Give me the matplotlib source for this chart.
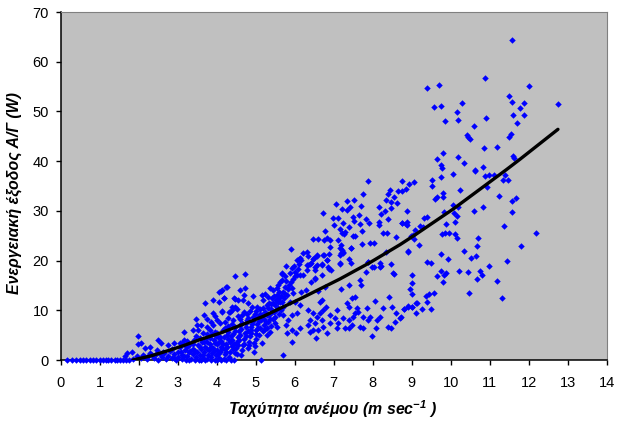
import matplotlib
matplotlib.use("Agg")
import matplotlib.pyplot as plt

plt.rcParams['font.family'] = ['Liberation Sans', 'DejaVu Sans']
plt.rcParams['mathtext.default'] = 'regular'

# (wind speed m/s, output W)
zero_row = [(0.15,0),(0.3,0),(0.38,0),(0.5,0),(0.58,0),(0.65,0),(0.75,0),(0.82,0),(0.9,0),(1.0,0),(1.08,0),(1.15,0),(1.22,0),(1.3,0),(1.38,0),(1.45,0),(1.52,0),(1.6,0.1),(1.68,0.1),(1.75,0.1)]

high_wind = [(11.57,64.3),(10.87,56.7),(9.40,54.66),(9.71,55.4),(12.02,55.1),(11.49,53.05),(11.56,51.8),(11.89,51.6),(12.75,51.4),(11.77,50.7),(9.56,50.8),(9.75,51.0),(10.28,51.6),(10.16,49.8),(9.85,48.0),(10.18,48.2),(10.90,48.6),(11.61,49.2),(11.87,49.2),(11.71,47.75),(10.59,47.0),(10.41,45.3),(10.45,44.9),(10.49,44.5),(11.54,45.5),(11.50,44.9),(10.86,42.7),(11.20,42.9),(9.79,41.7),(9.65,40.4),(10.20,40.8),(10.34,39.6),(11.59,41.1),(11.63,40.7),(9.76,39.2),(9.77,38.6),(10.62,38.2),(10.83,38.8),
(10.63,38.0),(10.05,37.5),(9.76,36.8),(8.76,36.1),(8.94,35.5),(9.06,35.9),(9.52,36.3),(9.51,35.0),(8.76,34.0),(8.85,34.3),(10.24,34.2),(10.87,36.95),(10.99,37.2),(11.11,37.3),(11.35,36.2),(11.46,36.2),(11.38,37.2),(10.94,34.7),(9.79,33.5),(9.81,32.7),(9.64,32.7),(9.59,32.3),(11.23,33.0),(11.67,32.5),(11.57,31.9),(10.06,31.2),(10.20,30.8),(10.82,30.85),(9.82,29.7),(10.61,29.9),(11.57,29.8),(8.87,30.0),(10.08,29.5),(10.16,29.0),(9.40,28.7),(9.31,28.5),(8.76,27.6),(8.87,27.8),(8.87,27.2),(9.89,27.4),(10.11,27.8),(9.21,27.0),(9.30,26.8),(9.08,26.2),(11.37,27.0),(12.20,25.6),(9.78,25.3),(9.86,25.5),(9.96,25.5),(10.11,25.4),(10.15,24.5),(10.69,24.5),(8.99,24.9),(9.07,24.4),(9.18,23.2),(10.68,22.9),(11.79,22.9),(8.91,21.9),(10.34,22.0),(9.76,21.3),(9.92,20.4),(10.53,20.5),(10.66,21.0),(11.44,20.0),(9.40,19.65),(9.49,19.45),(10.99,18.85),(9.75,18.0),(10.21,18.0),(10.44,17.8),(10.76,18.0),(9.02,17.1),(9.64,16.8),(9.87,17.4),(9.83,17.0),(10.79,17.1),(10.67,16.3),(9.81,15.7),(11.19,15.8),(9.0,15.4),(8.96,14.2),(9.02,13.3),(10.47,13.5),(9.57,13.5),(9.45,13.2),(9.36,12.9),(11.31,12.5),(9.38,11.7),(9.12,11.5),(9.02,10.7),(8.90,10.8),(8.79,10.3),(9.27,10.3),(9.50,10.3),(9.11,9.5),(8.73,8.6)]

upper_band = [(5.91,22.4),(4.48,16.8),(4.73,17.2),(4.25,14.7),(4.11,13.95),(4.19,12.5),(4.60,14.1),(4.72,14.4),(4.47,12.2),(4.55,12.1),(4.69,13.1),(4.94,12.9),(4.38,10.6),(4.32,9.7),(4.51,10.2),(4.13,9.9),(4.81,11.5),(4.90,10.6),(5.03,10.7),(5.15,13.1),(5.24,13.3),(5.37,14.4),(5.45,14.1),(5.32,12.7),(5.18,12.1),(5.41,12.4),(5.54,14.4),(5.58,15.1),(5.67,16.1),(5.62,15.6),(5.67,17.4),(5.77,18.9),(5.92,18.6),(6.01,17.8),(6.09,18.4),(6.14,17.1),(6.01,16.8),(6.07,20.1),(6.14,20.5),(6.22,21.5),(6.32,21.8),(6.35,21.0),(6.41,19.45),(6.32,19.1),(6.52,18.1),(6.56,19.1),(6.50,20.5),(6.58,21.1),(6.73,21.1),(6.89,21.3),(6.84,20.1),(6.69,19.1),(6.86,18.8),(6.92,18.1),(6.52,16.2),(6.41,15.6),(5.92,14.4),(5.95,13.5),(6.15,13.7),(6.29,14.1),(6.61,13.9),(6.78,14.75),
(8.91,21.8),(9.04,25.1),(8.59,24.7),(8.27,25.6),(8.36,25.5),(8.74,27.5),(8.85,27.4),(7.72,23.3),(7.93,23.6),(8.04,23.5),(7.72,26.0),(7.50,25.0),(7.55,25.0),(7.44,22.5),(7.16,22.5),(7.20,21.5),(7.25,21.8),(7.16,21.1),(7.16,19.5),(7.44,19.5),(7.89,19.8),(8.33,21.8),(8.19,19.5),(8.20,18.8),(8.46,19.25),(7.97,18.8),(8.03,18.8),(7.82,17.8),(8.53,17.4),
(7.89,36.1),(7.76,33.4),(8.44,34.2),(8.38,33.3),(8.66,33.9),(8.34,32.2),(8.54,32.7),(8.47,31.7),(8.63,31.5),(7.05,31.45),(7.34,32.0),(7.52,32.2),(7.70,31.0),(7.21,30.3),(7.42,30.7),(7.35,30.2),(8.16,30.7),(8.32,30.0),(8.46,30.5),(6.72,29.5),(8.21,29.3),(7.64,29.2),(6.98,28.6),(7.10,28.5),(7.49,28.7),(7.52,28.0),(7.82,28.4),(7.91,27.6),(8.40,28.3),(7.68,27.3),(8.15,27.8),(8.17,27.1),(7.02,27.2),(7.25,27.6),(7.16,26.4),(7.21,25.5),(7.29,25.8),(7.38,26.8),(7.27,25.4),(6.77,26.0),(6.46,24.4),(6.61,24.4),(6.74,24.1),(6.82,24.5),(6.91,24.1),(6.91,22.8),(7.12,24.1),(7.18,23.1),(7.45,22.5),(7.21,22.1),(7.25,21.5),(7.40,20.3),(6.82,20.05),(6.57,21.0),(6.74,21.1),(6.48,20.3),(6.10,20.3),(6.16,20.1),(6.12,19.4),(6.35,19.2),(6.40,19.3),(6.52,18.8),(6.69,19.3),(6.89,18.4),(5.97,18.9),(6.69,17.1),(7.16,19.3),(7.87,19.65),(8.22,19.0),(8.54,17.3),(5.67,17.3),(5.75,16.8),(5.88,17.4),(6.05,17.1),(6.22,17.1),(6.31,18.1),(6.52,16.4)]

lower_band = [(5.71,1.0),(5.14,0),(5.92,3.7),(6.54,4.4),(6.82,5.4),(7.97,4.8),(6.03,5.4),(5.92,6.0),(6.14,6.4),(5.79,5.4),(5.77,7.0),(5.84,8.0),(5.71,9.1),(5.92,9.1),(6.05,9.4),(6.14,11.1),(6.01,11.7),(5.88,11.7),(5.71,10.6),(5.58,10.4),(5.54,6.7),(5.37,5.7),(5.28,5.0),(5.50,8.7),(6.38,5.7),(6.46,6.0),(6.35,7.0),(6.39,8.05),(6.56,8.7),(6.35,10.1),(6.48,9.4),(6.65,9.4),(6.73,10.1),(6.65,11.7),(6.69,12.1),(6.80,10.6),(6.91,9.05),(7.03,8.4),(6.91,7.4),(6.73,6.7),(6.61,6.0),(6.52,7.4),(6.69,8.05),(7.08,10.1),(7.12,7.4),(7.08,6.4),(7.29,6.4),(7.38,6.4),(7.25,8.4),(7.38,8.05),(7.46,7.0),(7.50,8.7),(7.55,9.4),(7.33,11.4),(7.38,10.7),(7.46,12.4),(7.55,12.6),(7.59,10.4),(7.67,6.7),(7.76,6.4),(7.63,9.7),(7.76,8.7),(7.85,10.4),(7.89,8.05),(7.93,8.7),(8.06,11.9),(8.08,6.4),(8.10,8.05),(8.19,8.7),(8.27,10.4),(8.40,6.7),(8.46,6.5),(8.42,12.7),(8.49,10.7),(8.57,7.7),(8.59,9.4),(8.70,8.4),(8.79,10.2),(8.90,10.7),(9.02,10.7),(9.13,11.5),(7.18,14.2),(7.40,15.1),(7.67,16.0),(7.69,15.1)]

low_wind = [(4.26,14.6),(4.13,14.1),(4.07,13.7),(4.19,12.4),(4.07,11.7),(3.91,12.1),(3.71,11.4),(4.44,12.4),(4.67,12.1),(3.68,9.05),(3.47,8.25),(3.17,5.7),(3.38,6.0),(3.49,7.0),(3.90,9.4),(3.74,8.2),(4.13,9.7),(3.95,8.85),(4.38,10.1),(4.34,9.6),(4.47,10.7),(4.30,8.4),(4.43,8.05),(4.64,9.05),(1.99,4.9),(1.97,3.15),(2.05,3.35),(2.50,4.0),(2.56,3.35),(2.16,2.5),(2.29,2.7),(2.46,2.1),(1.82,1.7),(1.71,1.35),(1.65,0.8),(2.76,3.0),(2.91,3.35),(2.85,2.3),(2.63,1.7),(3.15,4.0),(3.10,3.35),(3.23,2.7),(3.6,7.0),(3.53,6.0),(3.74,6.7),(3.83,6.0),(3.66,5.4),(3.91,7.0),(4.09,7.4),(4.21,6.4),(3.95,5.7),(4.04,4.7),(4.26,5.0),(4.47,6.7),(4.6,7.0),(4.77,8.0)]

dense_core = [(1.85,0.3),(1.95,0.8),(2.05,0.4),(2.1,1.1),(2.2,0.2),(2.25,0.9),(2.3,1.5),(2.4,0.5),(2.45,1.2),(2.5,0.1),(2.6,0.6),(2.65,1.4),(2.7,0.2),(2.75,0.9),(2.8,1.9),(2.85,0.4),(2.9,1.2),(2.95,0.1),(3.0,0.7),(3.02,1.7),(3.05,2.6),(3.1,0.3),(3.12,1.1),(3.18,2.1),(3.2,0.1),(3.25,0.8),(3.28,1.6),(3.3,3.1),(3.35,0.3),(3.38,1.2),(3.4,2.3),(3.42,4.0),(3.48,0.7),(3.5,1.7),(3.52,3.0),(3.55,0.1),(3.58,1.1),(3.6,2.2),(3.62,3.6),(3.65,0.5),(3.68,1.6),(3.7,2.7),(3.72,4.5),(3.75,0.2),(3.78,1.0),(3.8,2.0),(3.82,3.2),(3.85,0.6),(3.88,1.5),(3.9,2.5),(3.92,4.0),(3.95,0.1),(3.98,1.1),(4.0,2.0),(4.0,3.2),(4.02,5.4),(4.05,0.5),(4.08,1.6),(4.1,2.7),(4.12,3.9),(4.15,6.0),(4.18,0.2),(4.2,1.2),(4.22,2.2),(4.25,3.3),(4.28,4.3),(4.3,6.9),(4.32,0.6),(4.35,1.7),(4.38,2.9),(4.4,4.0),(4.42,5.3),(4.45,0.1),(4.48,1.4),(4.5,2.4),(4.52,3.6),(4.55,4.7),(4.58,5.8),(4.6,8.2),(4.62,1.0),(4.65,2.0),(4.68,3.1),(4.7,4.2),(4.72,5.4),(4.75,6.6),(4.78,9.2),(4.8,2.5),(4.82,3.6),(4.85,4.8),(4.88,6.0),(4.9,7.2),(4.92,8.6),(4.95,1.6),(4.98,2.9),(5.0,4.2),(5.02,5.3),(5.05,6.5),(5.08,7.8),(5.1,9.2),(5.12,10.3),(5.15,3.4),(5.18,5.8),(5.2,7.0),(5.22,8.3),(5.25,9.6),(5.28,11.0),(5.3,6.4),(5.32,7.6),(5.35,9.0),(5.38,10.2),(5.4,11.3),(5.45,8.2),(5.48,9.6),(5.5,11.0),(5.52,12.0),(5.55,13.0),(5.6,9.2),(5.62,11.6),(5.65,12.8),(5.7,13.6),(5.75,14.6),(5.8,13.0),(5.85,15.0),(3.85,7.6),(4.0,8.0),(4.2,7.6),(4.4,7.3),(4.55,8.9),(4.7,9.6),(4.85,9.9),(5.0,9.9)]

dense_fill = [(3.3,0.0),(3.45,0.0),(3.6,0.0),(3.7,0.0),(3.85,0.0),(4.0,0.0),(4.1,0.0),(4.25,0.0),(4.37,0.0),(3.44,1.9),(3.56,2.7),(3.66,1.1),(3.74,3.6),(3.76,2.3),(3.84,4.4),(3.86,2.7),(3.94,1.9),(3.96,3.4),(3.97,4.9),(4.03,1.2),(4.06,3.7),(4.08,4.6),(4.14,2.2),(4.16,3.2),(4.18,4.7),(4.24,1.6),(4.27,2.7),(4.29,5.7),(4.33,3.6),(4.36,4.8),(4.41,2.2),(4.44,3.2),(4.46,5.9),(4.53,1.2),(4.54,3.0),(4.56,4.0),(4.6,5.0),(4.63,6.2),(4.66,7.5),(4.71,3.3),(4.74,4.8),(4.76,7.4),(4.79,5.9),(4.81,8.4),(4.84,3.0),(4.87,5.4),(4.89,6.6),(4.93,7.9),(4.96,3.5),(4.99,9.2),(5.01,6.0),(5.04,7.2),(5.06,8.6),(5.09,5.0),(5.11,6.4),(5.13,8.0),(5.16,9.0),(5.19,10.4),(5.23,6.3),(5.26,7.6),(5.29,9.0),(5.31,10.4),(5.34,11.5),(5.36,8.3),(5.39,6.9),(5.42,9.7),(5.44,11.4),(5.46,12.8),(5.49,7.5),(5.53,10.0),(5.56,11.6),(5.59,12.5),(5.61,13.6),(5.64,10.0),(5.68,11.6),(5.72,12.4),(5.76,13.2),(5.78,15.8),(5.83,14.2),(5.9,15.6),(5.96,16.2),(3.2,2.9),(3.05,3.4),(3.32,1.9),(3.4,3.2),(3.25,3.9),(3.46,4.8),(3.58,4.5),(3.68,3.6),(3.76,5.2),(3.88,5.2),(2.9,0.5),(3.08,1.7),(3.15,0.8),(2.55,1.2),(2.35,1.0),(2.15,0.6)]

trend_speed = [1.85,2.3,2.72,3.15,3.57,4.085,4.85,5.2,6.14,7.16,7.93,8.7,9.13,10.07,11.43,11.78,12.75]
trend_power = [0.0,0.8,1.8,2.9,4.1,5.4,7.7,8.8,12.3,16.3,19.6,23.2,25.4,30.4,38.3,40.4,46.4]

x_ticks = list(range(0, 15))
y_ticks = list(range(0, 71, 10))

points = zero_row + high_wind + upper_band + lower_band + low_wind + dense_core + dense_fill
speed = [p[0] for p in points]
power = [p[1] for p in points]

fig = plt.figure(figsize=(6.22, 4.36), dpi=100)
W, H = 622, 436
ax = fig.add_axes([60.7/W, 1-360/H, 546/W, 348/H], facecolor='#C0C0C0')
ax.plot(speed, power, ls='none', marker='D', ms=3.3, mew=0, color='#0000FF', clip_on=False, zorder=3)
ax.plot(trend_speed, trend_power, color='black', lw=2.4, zorder=4, solid_capstyle='round', solid_joinstyle='round')
ax.set_xlim(0, 14)
ax.set_ylim(0, 70)
ax.set_xticks(x_ticks)
ax.set_yticks(y_ticks)
ax.tick_params(direction='out', length=3.5, width=1, labelsize=10.5, colors='black')
ax.tick_params(axis='x', pad=8)
ax.tick_params(axis='y', pad=5)
for s in ('left', 'bottom'):
    ax.spines[s].set_linewidth(1.1)
    ax.spines[s].set_color('black')
for s in ('top', 'right'):
    ax.spines[s].set_linewidth(0.8)
    ax.spines[s].set_color('#808080')

fig.text(333/W, 1-409/H, r"Ταχύτητα ανέμου (m sec$^{-1}$ )", ha='center', va='center',
         fontsize=11.4, fontweight='bold', fontstyle='italic')
fig.text(14/W, 1-193/H, "Ενεργειακή έξοδος Α/Γ (W)", rotation=90, ha='center', va='center',
         fontsize=11.4, fontweight='bold', fontstyle='italic')
fig.savefig('out.png', dpi=100)
